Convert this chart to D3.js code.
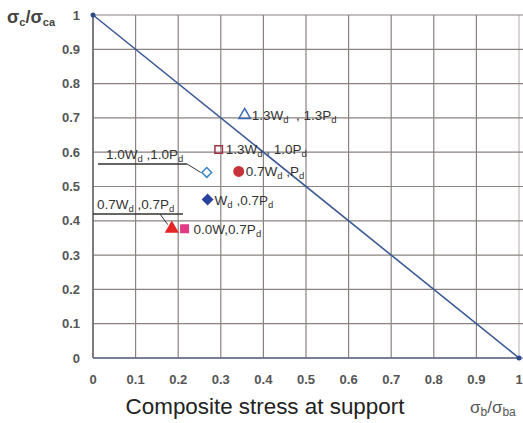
<!DOCTYPE html>
<html><head><meta charset="utf-8">
<script src="https://cdn.jsdelivr.net/npm/d3@7"></script>
<style>body{margin:0;background:#fff}svg{display:block}text{font-family:"Liberation Sans",Arial,sans-serif;white-space:pre}</style>
</head><body><svg id="c" width="523" height="423"></svg>
<script>
// data
const xTicks = [0,0.1,0.2,0.3,0.4,0.5,0.6,0.7,0.8,0.9,1];
const yTicks = [0,0.1,0.2,0.3,0.4,0.5,0.6,0.7,0.8,0.9,1];
const tickLabels = ["0","0.1","0.2","0.3","0.4","0.5","0.6","0.7","0.8","0.9","1"];
const pointNames = ["1.3W_d\u00a0\u00a0,\u00a01.3P_d","1.3W_d , 1.0P_d","1.0W_d ,1.0P_d","0.7W_d ,P_d","W_d ,0.7P_d","0.7W_d ,0.7P_d","0.0W,0.7P_d"];
const pointX = [0.356,0.295,0.267,0.342,0.269,0.185,0.215];
const pointY = [0.708,0.608,0.541,0.544,0.462,0.377,0.377];
const pointShape = ["triangle","square","diamond","circle","diamond","triangle","square"];
const pointFill = ["none","none","none","#c8323a","#2c44a0","#e52424","#e23a84"];
const pointStroke = ["#3a68b0","#a03242","#3a86c4","#c8323a","#2c44a0","#e52424","#e23a84"];
const limitLine = [[0,1],[1,0]];

const svg = d3.select("#c");
const L=93,R=519,T=15,B=358;
const x = d3.scaleLinear().domain([0,1]).range([L,R]);
const y = d3.scaleLinear().domain([0,1]).range([B,T]);

// grid
svg.append("g").selectAll("line").data(xTicks).join("line")
  .attr("x1",d=>x(d)).attr("x2",d=>x(d)).attr("y1",T).attr("y2",B)
  .attr("stroke",d=>d===1?"#c0bab8":"#8a8280").attr("stroke-width",1.2);
svg.append("g").selectAll("line").data(yTicks).join("line")
  .attr("y1",d=>y(d)).attr("y2",d=>y(d)).attr("x1",L).attr("x2",523)
  .attr("stroke","#8a8280").attr("stroke-width",1.2);
svg.append("line").attr("x1",L).attr("x2",L).attr("y1",T).attr("y2",B).attr("stroke","#6c6a70").attr("stroke-width",1.5);
svg.append("line").attr("x1",L).attr("x2",R).attr("y1",B).attr("y2",B).attr("stroke","#5c6a88").attr("stroke-width",1.5);

// tick labels
svg.append("g").selectAll("text").data(yTicks).join("text")
  .attr("x",80).attr("y",d=>y(d)+4.5).attr("text-anchor","end")
  .attr("font-size",13).attr("fill","#555").attr("font-weight","bold").text((d,i)=>tickLabels[i]);
svg.append("g").selectAll("text").data(xTicks).join("text")
  .attr("x",d=>x(d)).attr("y",384).attr("text-anchor","middle")
  .attr("font-size",13).attr("fill","#555").attr("font-weight","bold").text((d,i)=>tickLabels[i]);

// limit line
svg.append("path").datum(limitLine).attr("d",d3.line().x(d=>x(d[0])).y(d=>y(d[1])))
  .attr("stroke","#3c5a96").attr("stroke-width",1.6).attr("fill","none");
svg.append("g").selectAll("circle").data(limitLine).join("circle")
  .attr("cx",d=>x(d[0])).attr("cy",d=>y(d[1])).attr("r",2.5).attr("fill","#2c4a8c");

// helper for subscript labels
function richText(sel, str, size, subSize){
  const parts = str.split(/(_.)/).filter(s=>s.length);
  let down=false;
  parts.forEach(p=>{
    if(p[0]==="_"){
      sel.append("tspan").attr("font-size",subSize).attr("dy",3).text(p[1]);
      down=true;
    } else {
      sel.append("tspan").attr("font-size",size).attr("dy",down?-3:0).text(p);
      down=false;
    }
  });
}

// markers
const symMap = {triangle:d3.symbolTriangle, square:d3.symbolSquare, diamond:d3.symbolSquare, circle:d3.symbolCircle};
const sizeMap = {triangle:58, square:56, diamond:48, circle:70};
const idx = d3.range(pointNames.length);
svg.append("g").selectAll("path").data(idx).join("path")
  .attr("transform",i=>`translate(${x(pointX[i])},${y(pointY[i])})`+(pointShape[i]==="diamond"?" rotate(45)":""))
  .attr("d",i=>d3.symbol().type(symMap[pointShape[i]]).size(sizeMap[pointShape[i]])())
  .attr("fill",i=>pointFill[i]).attr("stroke",i=>pointStroke[i]).attr("stroke-width",1.5);

// labels
const lblCol = "#333";
const FS=13.5, SS=9.5;
idx.forEach(i=>{
  if(i===2||i===5){
    const px = x(pointX[i]), py = y(pointY[i]);
    const ux = i===2 ? [98,187] : [93,183];
    const uy = i===2 ? 164 : 214;
    const bend = i===2 ? 187 : 160;
    const end = i===2 ? [px-6,py] : [px-4,py-4];
    svg.append("path").attr("d",`M${ux[0]},${uy}H${ux[1]}`).attr("stroke","#333").attr("stroke-width",1.4).attr("fill","none");
    svg.append("path").attr("d",`M${bend},${uy}L${end[0]},${end[1]}`).attr("stroke","#333").attr("stroke-width",1).attr("fill","none");
    const t = svg.append("text").attr("x",i===2?106:97).attr("y",uy-5).attr("fill",lblCol);
    richText(t,pointNames[i],FS,SS);
  } else {
    const off = i===6 ? 9 : 7;
    const t = svg.append("text").attr("x",x(pointX[i])+off).attr("y",y(pointY[i])+5).attr("fill",lblCol);
    richText(t,pointNames[i],FS,SS);
  }
});

// axis titles
const yt = svg.append("text").attr("x",7).attr("y",23).attr("fill","#444").attr("font-weight","bold");
yt.append("tspan").attr("font-size",18).text("σ");
yt.append("tspan").attr("font-size",11).attr("dy",3).text("c");
yt.append("tspan").attr("font-size",18).attr("dy",-3).text("/σ");
yt.append("tspan").attr("font-size",11).attr("dy",3).text("ca");
svg.append("text").attr("x",265).attr("y",414).attr("text-anchor","middle").attr("font-size",22.4)
  .attr("fill","#222").text("Composite stress at support");
const xt = svg.append("text").attr("x",470).attr("y",413).attr("fill","#555");
xt.append("tspan").attr("font-size",17).text("σ");
xt.append("tspan").attr("font-size",12).attr("dy",3).text("b");
xt.append("tspan").attr("font-size",17).attr("dy",-3).text("/σ");
xt.append("tspan").attr("font-size",12).attr("dy",3).text("ba");
</script></body></html>
